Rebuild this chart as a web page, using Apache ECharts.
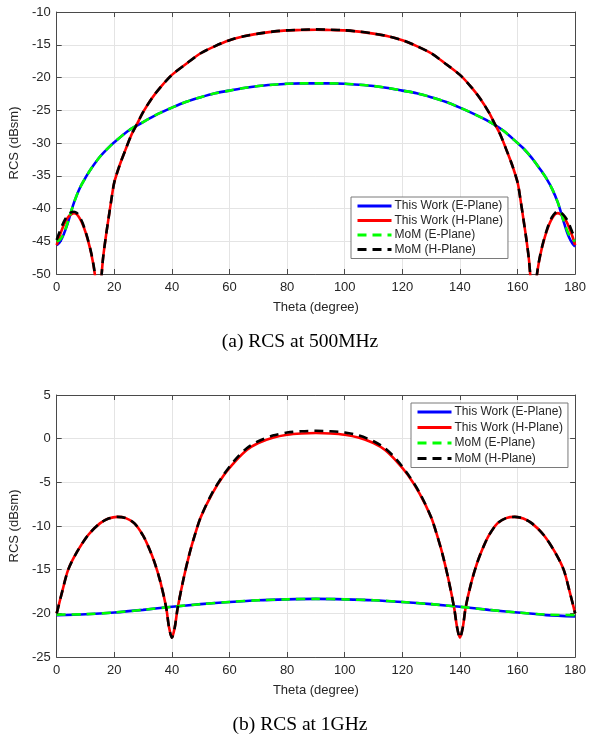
<!DOCTYPE html>
<html lang="en">
<head>
<meta charset="UTF-8">
<title>RCS</title>
<script src="https://cdn.jsdelivr.net/npm/echarts@6.0.0/dist/echarts.min.js"></script>
<style>
  html, body { margin: 0; padding: 0; background: #fff; }
  #main { width: 589px; height: 738px; }
</style>
</head>
<body>
<div id="main"></div>
<script>
// legend names
var names = ['This Work (E-Plane)', 'This Work (H-Plane)', 'MoM (E-Plane)', 'MoM (H-Plane)'];
var captions = ['(a) RCS at 500MHz', '(b) RCS at 1GHz'];
var xTitle = 'Theta (degree)';
var yTitle = 'RCS (dBsm)';

// ---- (a) 500MHz ----
var thetaA_E = [0, 1, 2, 3, 4, 5, 6, 8, 10, 12, 15, 18, 20, 25, 30, 35, 40, 45, 50, 55, 60, 65, 70, 75, 80, 85, 90,
  95, 100, 105, 110, 115, 120, 125, 130, 135, 140, 145, 150, 155, 160, 162, 165, 168, 170, 172, 174, 175, 176, 177, 178, 179, 180];
var workA_E = [-45.6, -45.2, -44.4, -43.3, -42.0, -40.5, -39.1, -36.9, -35.3, -33.9, -32.1, -30.7, -29.9, -28.1, -26.8, -25.6, -24.6, -23.7, -23.0, -22.4, -22.0, -21.6, -21.3, -21.1, -20.95, -20.9, -20.9,
  -20.9, -20.95, -21.1, -21.3, -21.6, -22.0, -22.4, -23.0, -23.7, -24.6, -25.6, -26.7, -28.1, -30.0, -30.8, -32.3, -34.1, -35.4, -37.0, -39.1, -40.5, -42.0, -43.4, -44.5, -45.3, -45.8];
var momA_E = [-45.0, -44.8, -44.2, -43.2, -41.9, -40.5, -39.1, -36.9, -35.3, -33.9, -32.1, -30.7, -29.9, -28.1, -26.8, -25.6, -24.6, -23.7, -23.0, -22.4, -22.0, -21.6, -21.3, -21.1, -20.95, -20.9, -20.9,
  -20.9, -20.95, -21.1, -21.3, -21.6, -22.0, -22.4, -23.0, -23.7, -24.6, -25.6, -26.7, -28.1, -30.0, -30.8, -32.3, -34.1, -35.4, -37.0, -39.1, -40.5, -41.9, -43.1, -44.1, -44.7, -45.0];

var thetaA_H = [0, 1, 2, 3, 4, 5, 6, 7, 8, 9, 10, 11, 12, 13, 14, 14.6, 15.2, 16, 17, 18, 19, 20, 22, 24, 26, 28, 30, 33, 36, 40, 45, 50, 55, 60, 65, 70, 75, 80, 85, 90,
  95, 100, 105, 110, 115, 120, 125, 130, 135, 140, 144, 147, 150, 152, 154, 156, 158, 160, 161, 162, 163, 164, 164.8, 165.4, 166, 167, 168, 169, 170, 171, 172, 173, 174, 175, 176, 177, 178, 179, 180];
var workA_H = [-45.6, -44.2, -43.0, -42.0, -41.3, -40.9, -40.7, -40.9, -41.5, -42.4, -43.6, -45.1, -46.9, -49.3, -53.0, -62.0, -53.0, -48.0, -44.5, -41.5, -38.6, -36.0, -33.2, -30.9, -28.7, -27.0, -25.3, -23.2, -21.5, -19.6, -17.9, -16.3, -15.2, -14.3, -13.7, -13.3, -13.0, -12.8, -12.75, -12.7,
  -12.75, -12.8, -13.0, -13.3, -13.7, -14.3, -15.2, -16.3, -17.9, -19.6, -21.5, -23.2, -25.3, -27.0, -28.7, -30.9, -33.2, -36.0, -38.6, -41.5, -44.5, -48.0, -53.0, -62.0, -53.0, -49.3, -46.9, -45.1, -43.6, -42.4, -41.5, -40.9, -40.7, -40.9, -41.3, -42.0, -43.0, -44.2, -45.6];
var momA_H = [-44.8, -43.6, -42.5, -41.6, -41.0, -40.6, -40.5, -40.7, -41.3, -42.2, -43.5, -45.0, -46.8, -49.2, -53.0, -62.0, -53.0, -48.0, -44.5, -41.5, -38.6, -36.0, -33.2, -30.9, -28.7, -27.0, -25.3, -23.2, -21.5, -19.6, -17.9, -16.3, -15.2, -14.3, -13.7, -13.3, -13.0, -12.8, -12.7, -12.65,
  -12.7, -12.8, -13.0, -13.3, -13.7, -14.3, -15.2, -16.3, -17.9, -19.6, -21.5, -23.2, -25.3, -27.0, -28.7, -30.9, -33.2, -36.0, -38.6, -41.5, -44.5, -48.0, -53.0, -62.0, -53.0, -49.2, -46.8, -45.0, -43.5, -42.2, -41.3, -40.7, -40.4, -40.6, -41.0, -41.6, -42.5, -43.6, -44.6];

// ---- (b) 1GHz ----
var thetaB_E = [0, 10, 20, 30, 40, 50, 60, 70, 80, 90, 100, 110, 120, 130, 140, 150, 160, 170, 180];
var workB_E = [-20.2, -20.1, -19.9, -19.6, -19.25, -18.95, -18.7, -18.5, -18.4, -18.35, -18.4, -18.5, -18.7, -18.95, -19.25, -19.6, -19.9, -20.2, -20.35];
var momB_E = [-20.15, -20.1, -19.9, -19.6, -19.25, -18.95, -18.7, -18.5, -18.4, -18.35, -18.4, -18.5, -18.7, -18.95, -19.25, -19.6, -19.9, -20.15, -20.2];

var thetaB_H = [0, 2, 4, 7, 11, 15, 18, 21, 24, 27, 30, 32, 34, 36, 38, 39, 40, 41, 42, 44, 46, 48, 50, 54, 58, 62, 66, 70, 75, 80, 85, 90,
  95, 100, 105, 110, 114, 118, 122, 126, 130, 132, 134, 136, 138, 139, 140, 141, 142, 144, 146, 148, 150, 153, 156, 159, 162, 165, 169, 173, 176, 178, 180];
var workB_H = [-20.0, -17.4, -15.0, -13.0, -11.0, -9.7, -9.15, -8.95, -9.1, -9.7, -11.1, -12.5, -14.2, -16.4, -19.3, -21.6, -22.8, -21.6, -19.4, -16.1, -13.3, -11.0, -9.0, -6.3, -4.2, -2.6, -1.3, -0.5, 0.1, 0.45, 0.6, 0.65,
  0.6, 0.45, 0.1, -0.5, -1.3, -2.6, -4.2, -6.3, -9.0, -11.0, -13.3, -16.1, -19.4, -21.6, -22.8, -21.6, -19.3, -16.4, -14.2, -12.5, -11.1, -9.7, -9.1, -8.95, -9.15, -9.7, -11.0, -13.0, -15.0, -17.4, -20.0];
var momB_H = [-20.0, -17.4, -15.0, -13.0, -11.0, -9.7, -9.15, -8.95, -9.1, -9.7, -11.1, -12.5, -14.2, -16.4, -19.3, -21.6, -22.8, -21.6, -19.4, -16.1, -13.3, -11.0, -9.0, -6.2, -4.1, -2.4, -1.1, -0.3, 0.35, 0.7, 0.85, 0.9,
  0.85, 0.7, 0.35, -0.3, -1.1, -2.4, -4.1, -6.2, -9.0, -11.0, -13.3, -16.1, -19.4, -21.6, -22.8, -21.6, -19.3, -16.4, -14.2, -12.5, -11.1, -9.7, -9.1, -8.95, -9.15, -9.7, -11.0, -13.0, -15.0, -17.4, -20.0];

function pairs(xs, ys) {
  return xs.map(function (x, i) { return [x, ys[i]]; });
}

var sans = 'Liberation Sans, Arial, Helvetica, sans-serif';
var serif = 'Liberation Serif, Times New Roman, serif';
var axisCol = '#4a4a4a';
var textCol = '#262626';
var gridCol = '#e4e4e4';

function xAxes(gi, main) {
  return {
    gridIndex: gi,
    type: 'value',
    position: main ? 'bottom' : 'top',
    min: 0, max: 180, interval: 20,
    name: main ? xTitle : '',
    nameLocation: 'middle',
    nameGap: 27,
    nameTextStyle: { fontFamily: sans, fontSize: 13, color: textCol },
    axisLine: { show: true, onZero: false, lineStyle: { color: axisCol, width: 1 } },
    axisTick: { show: true, inside: true, length: 5, lineStyle: { color: axisCol } },
    axisLabel: { show: main, margin: 7, fontFamily: sans, fontSize: 13, color: textCol },
    splitLine: { show: main, lineStyle: { color: gridCol, width: 1 } }
  };
}
function yAxes(gi, main, lo, hi) {
  return {
    gridIndex: gi,
    type: 'value',
    position: main ? 'left' : 'right',
    min: lo, max: hi, interval: 5,
    name: main ? yTitle : '',
    nameLocation: 'middle',
    nameGap: 31,
    nameTextStyle: { fontFamily: sans, fontSize: 13, color: textCol },
    axisLine: { show: true, onZero: false, lineStyle: { color: axisCol, width: 1 } },
    axisTick: { show: true, inside: true, length: 5, lineStyle: { color: axisCol } },
    axisLabel: { show: main, margin: 6, fontFamily: sans, fontSize: 13, color: textCol },
    splitLine: { show: main, lineStyle: { color: gridCol, width: 1 } }
  };
}

function line(name, data, color, dashed, xi, yi) {
  return {
    type: 'line',
    name: name,
    xAxisIndex: xi,
    yAxisIndex: yi,
    data: data,
    smooth: 0.3,
    symbol: 'none',
    clip: true,
    animation: false,
    lineStyle: { color: color, width: 2.6, type: dashed ? [9, 6] : 'solid' },
    itemStyle: { color: color }
  };
}

function legendAt(left, top, gap) {
  return {
    data: names,
    orient: 'vertical',
    left: left,
    top: top,
    padding: [3, 5, 3, 5],
    itemGap: gap,
    itemWidth: 34,
    itemHeight: 14,
    selectedMode: false,
    backgroundColor: '#fff',
    borderColor: '#7a7a7a',
    borderWidth: 1,
    borderRadius: 0,
    itemStyle: { opacity: 0 },
    lineStyle: { width: 3, opacity: 1 },
    textStyle: { fontFamily: sans, fontSize: 12, color: textCol, padding: [0, 0, 0, -2] }
  };
}

var chart = echarts.init(document.getElementById('main'), null, { renderer: 'canvas' });

var option = {
  backgroundColor: '#fff',
  animation: false,
  grid: [
    { left: 51, top: 12, width: 525, height: 262 },
    { left: 51, top: 395, width: 525, height: 262 }
  ],
  legend: [legendAt(351, 197, 2.5), legendAt(411, 403, 3.5)],
  xAxis: [xAxes(0, true), xAxes(0, false), xAxes(1, true), xAxes(1, false)],
  yAxis: [yAxes(0, true, -50, -10), yAxes(0, false, -50, -10), yAxes(1, true, -25, 5), yAxes(1, false, -25, 5)],
  graphic: [
    { type: 'text', x: 300, y: 342, style: { text: captions[0], font: '19.5px ' + serif, fill: '#000', align: 'center', verticalAlign: 'middle' } },
    { type: 'text', x: 300, y: 725, style: { text: captions[1], font: '19.5px ' + serif, fill: '#000', align: 'center', verticalAlign: 'middle' } }
  ],
  series: [
    line(names[0], pairs(thetaA_E, workA_E), '#0000ff', false, 0, 0),
    line(names[1], pairs(thetaA_H, workA_H), '#ff0000', false, 0, 0),
    line(names[2], pairs(thetaA_E, momA_E), '#00ff00', true, 0, 0),
    line(names[3], pairs(thetaA_H, momA_H), '#000000', true, 0, 0),
    line(names[0], pairs(thetaB_E, workB_E), '#0000ff', false, 2, 2),
    line(names[1], pairs(thetaB_H, workB_H), '#ff0000', false, 2, 2),
    line(names[2], pairs(thetaB_E, momB_E), '#00ff00', true, 2, 2),
    line(names[3], pairs(thetaB_H, momB_H), '#000000', true, 2, 2)
  ]
};

chart.setOption(option);
</script>
</body>
</html>
